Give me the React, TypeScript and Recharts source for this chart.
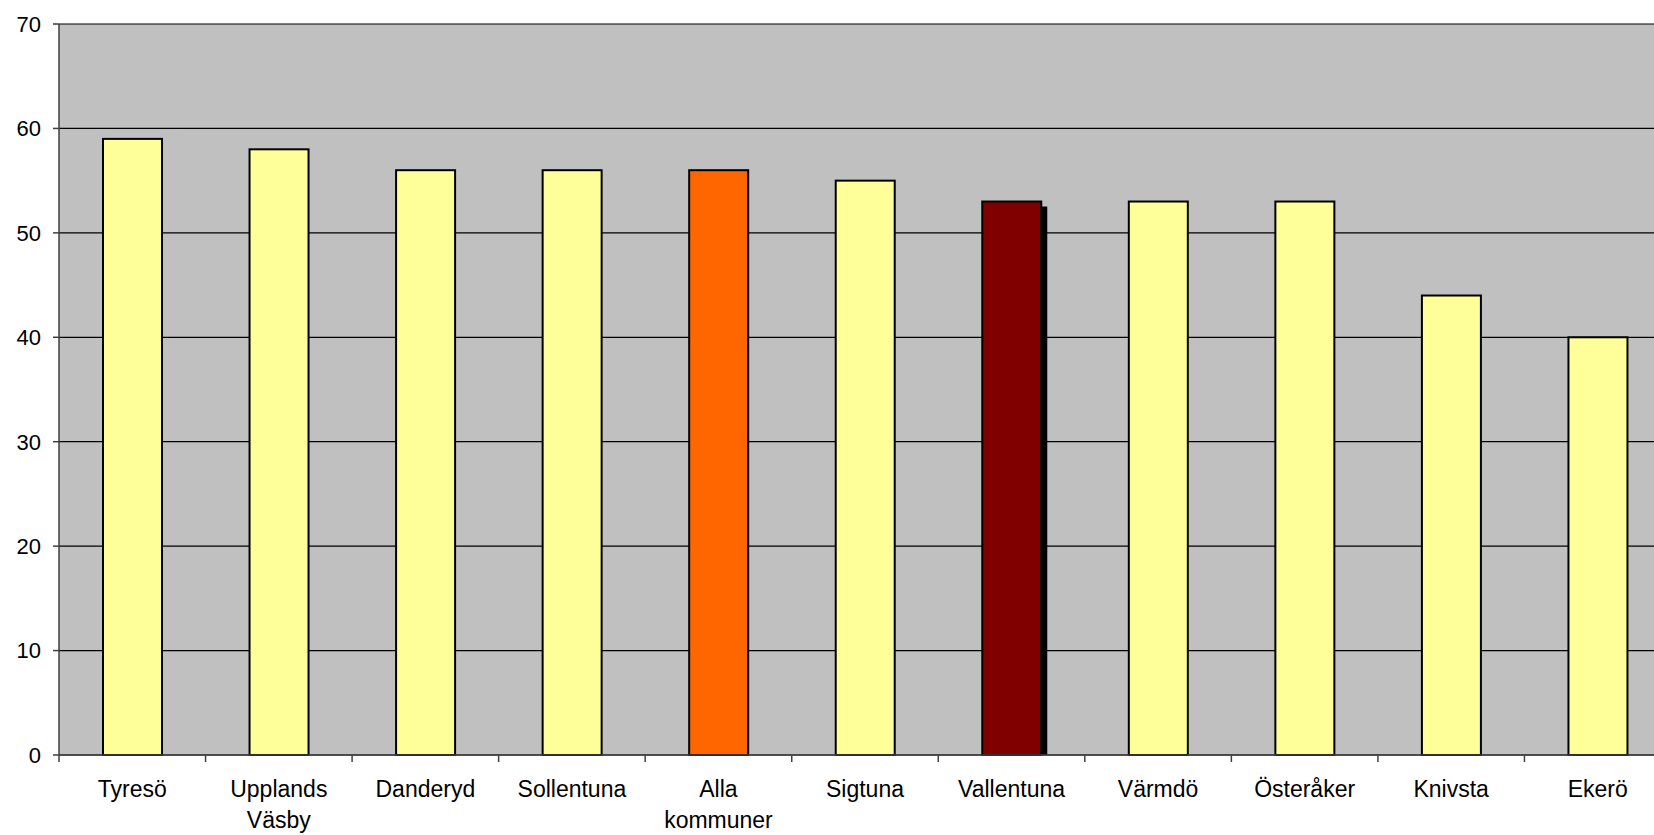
import React from "react";
import { BarChart, Bar, XAxis, YAxis, CartesianGrid, Cell } from "recharts";

const categories = [
  "Tyresö",
  "Upplands\nVäsby",
  "Danderyd",
  "Sollentuna",
  "Alla\nkommuner",
  "Sigtuna",
  "Vallentuna",
  "Värmdö",
  "Österåker",
  "Knivsta",
  "Ekerö",
];
const values = [59, 58, 56, 56, 56, 55, 53, 53, 53, 44, 40];
const yTicks = [0, 10, 20, 30, 40, 50, 60, 70];

const averageName = "Alla\nkommuner";
const focusName = "Vallentuna";

const data = categories.map((name, i) => ({ name, value: values[i] }));

const colorFor = (name: string) =>
  name === averageName ? "#FF6600" : name === focusName ? "#800000" : "#FFFF99";

const FONT = "'Liberation Sans', Arial, sans-serif";

const CHART_W = 1695;
const Y_W = 59;
const RIGHT = 24;
const BAND = (CHART_W - Y_W - RIGHT) / categories.length;

const BarShape = (props: any) => {
  const { x, y, width, height, fill, payload } = props;
  const shadow = payload && payload.name === focusName;
  return (
    <g>
      {shadow && (
        <rect x={x + 6} y={y + 5} width={width} height={height - 5} fill="#000000" />
      )}
      <rect x={x} y={y} width={width} height={height} fill={fill} stroke="#000000" strokeWidth={2} />
    </g>
  );
};

const XTick = (props: any) => {
  const { x, y, payload } = props;
  const lines = String(payload.value).split("\n");
  return (
    <g>
      <line x1={x - BAND / 2} y1={y} x2={x - BAND / 2} y2={y + 7} stroke="#404040" strokeWidth={1.5} />
      <text x={x} y={y + 42} textAnchor="middle" fontFamily={FONT} fontSize={23} fill="#000000">
        {lines.map((l, i) => (
          <tspan key={i} x={x} dy={i === 0 ? 0 : 31}>
            {l}
          </tspan>
        ))}
      </text>
    </g>
  );
};

export default function App() {
  return (
    <div
      style={{
        position: "fixed",
        left: 0,
        top: 0,
        width: 1654,
        height: 835,
        overflow: "hidden",
        background: "#ffffff",
      }}
    >
      <BarChart
        width={CHART_W}
        height={835}
        data={data}
        margin={{ top: 24, right: RIGHT, left: 0, bottom: 0 }}
        barSize={59}
      >
        <CartesianGrid
          vertical={false}
          horizontal={true}
          fill="#C0C0C0"
          stroke="#000000"
          strokeWidth={1.2}
        />
        <XAxis
          dataKey="name"
          height={80}
          interval={0}
          tickLine={false}
          tickSize={0}
          tickMargin={0}
          axisLine={{ stroke: "#404040", strokeWidth: 1.5 }}
          tick={<XTick />}
        />
        <YAxis
          width={Y_W}
          domain={[0, 70]}
          ticks={yTicks}
          interval={0}
          tickSize={6}
          tickMargin={12}
          axisLine={{ stroke: "#404040", strokeWidth: 1.5 }}
          tickLine={{ stroke: "#404040", strokeWidth: 1.5 }}
          tick={{ fontFamily: FONT, fontSize: 22, fill: "#000000" }}
        />
        <Bar dataKey="value" isAnimationActive={false} shape={<BarShape />}>
          {data.map((d, i) => (
            <Cell key={i} fill={colorFor(d.name)} />
          ))}
        </Bar>
      </BarChart>
    </div>
  );
}
